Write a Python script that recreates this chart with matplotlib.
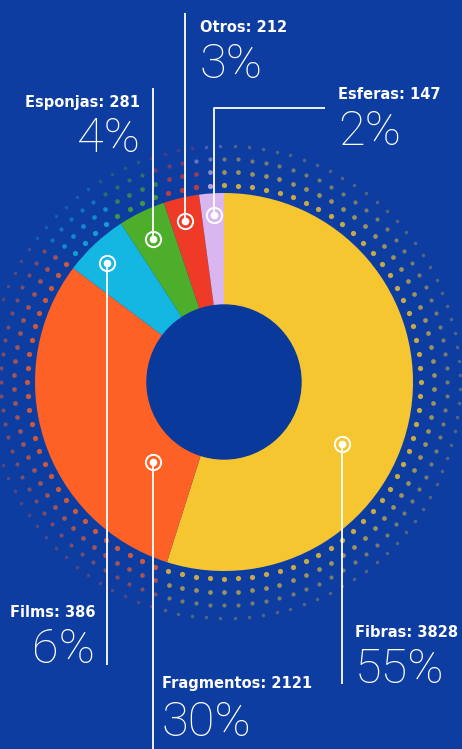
import numpy as np
import matplotlib.pyplot as plt

# --- data ---
categorias = ['Fibras', 'Fragmentos', 'Films', 'Esponjas', 'Otros', 'Esferas']
valores = [3828, 2121, 386, 281, 212, 147]
porcentajes = ['55%', '30%', '6%', '4%', '3%', '2%']
colores = ['#f6c631', '#fd6125', '#14b6e2', '#4dae2b', '#f03a28', '#d9b6ee']

# --- layout (pixel coords, y from top) ---
W, H = 462, 749
BG = '#0e3da2'
HOLE = '#093a9b'
cx, cy = 224, 382
R_OUT, R_IN = 189, 77

# marker, line path, text x, label baseline, pct baseline, alignment
anot = {
    'Fibras':     dict(m=(342, 444), path=[(342, 444), (342, 684)], tx=355, yl=637, yp=683, ha='left'),
    'Fragmentos': dict(m=(153, 462), path=[(153, 462), (153, 749)], tx=162, yl=688, yp=736.5, ha='left'),
    'Films':      dict(m=(107, 263), path=[(107, 263), (107, 665)], tx=95, yl=617, yp=663, ha='right'),
    'Esponjas':   dict(m=(153, 239), path=[(153, 239), (153, 88)], tx=140, yl=107, yp=152, ha='right'),
    'Otros':      dict(m=(185, 221), path=[(185, 221), (185, 13)], tx=200, yl=32, yp=78, ha='left'),
    'Esferas':    dict(m=(214, 215), path=[(214, 215), (214, 108), (325, 108)], tx=338, yl=99, yp=145, ha='left'),
}

def py(y):
    return H - y

fig = plt.figure(figsize=(W / 100, H / 100), dpi=100)
fig.patch.set_facecolor(BG)
ax = fig.add_axes([0, 0, 1, 1])
ax.set_facecolor(BG)

# --- halo de puntos ---
total = sum(valores)
frac = np.cumsum(valores) / total
def color_angulo(a):
    # angulo en sentido horario desde arriba, en fraccion de vuelta
    f = ((90 - a) % 360) / 360
    i = int(np.searchsorted(frac, f))
    return colores[min(i, len(colores) - 1)]

for k, dr in enumerate([8, 21, 34, 47]):
    r = R_OUT + dr
    n = int(2 * np.pi * r / 14)
    off = 0.5 * (k % 2)
    for j in range(n):
        a = 360 * (j + off) / n
        x = cx + r * np.cos(np.radians(a))
        y = py(cy) + r * np.sin(np.radians(a))
        ax.scatter(x, y, s=14 - 2.5 * k, color=color_angulo(a),
                   alpha=0.8 - 0.17 * k, lw=0, zorder=1)

# --- donut ---
ax.pie(valores, colors=colores, startangle=90, counterclock=False,
       center=(cx, py(cy)), radius=R_OUT,
       wedgeprops=dict(width=R_OUT - R_IN, linewidth=0))
ax.add_patch(plt.Circle((cx, py(cy)), R_IN, color=HOLE, zorder=3))

# --- etiquetas ---
for cat, val, pct in zip(categorias, valores, porcentajes):
    a = anot[cat]
    xs = [p[0] for p in a['path']]
    ys = [py(p[1]) for p in a['path']]
    ax.plot(xs, ys, color='white', lw=1.3, zorder=4, solid_capstyle='butt')
    mx, my = a['m']
    ax.plot(mx, py(my), 'o', ms=11, mfc='none', mec='white', mew=1.4, zorder=5)
    ax.plot(mx, py(my), 'o', ms=4.5, color='white', zorder=5)
    ax.text(a['tx'], py(a['yl']), f'{cat}: {val}', color='white', fontsize=10.5,
            fontweight='bold', family='DejaVu Sans', ha=a['ha'], va='baseline', zorder=6)
    ax.text(a['tx'], py(a['yp']), pct, color='white', fontsize=35,
            fontweight='light', family='Roboto', ha=a['ha'], va='baseline', zorder=6)

ax.set_xlim(0, W)
ax.set_ylim(0, H)
ax.set_aspect('equal')
ax.axis('off')

fig.savefig('out.png', dpi=100, facecolor=BG)
